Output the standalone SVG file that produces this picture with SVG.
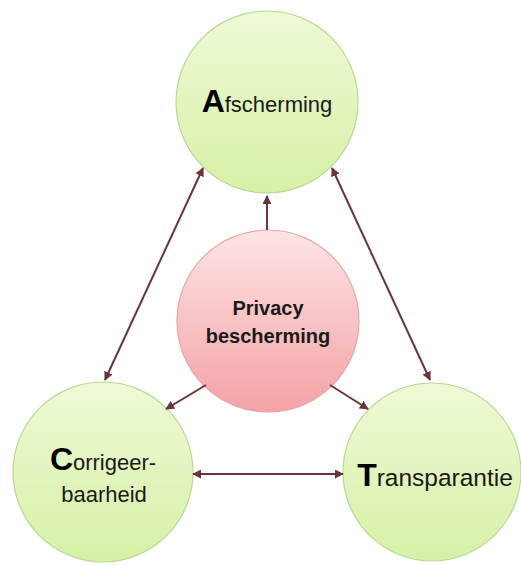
<svg xmlns="http://www.w3.org/2000/svg" width="521" height="565" viewBox="0 0 521 565">
  <defs>
    <linearGradient id="gGreen" x1="0" y1="0" x2="0" y2="1">
      <stop offset="0" stop-color="#eefad6"/>
      <stop offset="1" stop-color="#d6f0a6"/>
    </linearGradient>
    <linearGradient id="gPink" x1="0" y1="0" x2="0" y2="1">
      <stop offset="0" stop-color="#fde4e4"/>
      <stop offset="1" stop-color="#f3a2a6"/>
    </linearGradient>
    <marker id="head" viewBox="0 0 10 10" refX="9" refY="5" markerWidth="4.5" markerHeight="4.5" orient="auto-start-reverse" markerUnits="strokeWidth">
      <path d="M0,0 L10,5 L0,10 z" fill="#6a3438"/>
    </marker>
    <style>
      .green { fill: url(#gGreen); stroke: #b9d996; stroke-width: 1.2; }
      .pink { fill: url(#gPink); stroke: #e9a5a8; stroke-width: 1.2; }
      .lbl { font-family: "Liberation Sans", Arial, sans-serif; font-size: 22px; fill: #1a1a1a; text-anchor: middle; }
      .big { font-size: 32px; font-weight: bold; fill: #000; }
      .bold { font-family: "Liberation Sans", Arial, sans-serif; font-size: 20px; font-weight: bold; fill: #1a1a1a; text-anchor: middle; }
      .conn line { stroke: #6a3438; stroke-width: 2; fill: none; }
    </style>
  </defs>
  <rect width="521" height="565" fill="#ffffff"/>

  <g id="afscherming">
    <circle class="green" cx="267" cy="102" r="91"/>
    <text class="lbl" x="267" y="112"><tspan class="big">A</tspan>fscherming</text>
  </g>

  <g id="privacy-bescherming">
    <circle class="pink" cx="268" cy="321" r="91"/>
    <text class="bold" x="268" y="315">Privacy</text>
    <text class="bold" x="268" y="343">bescherming</text>
  </g>

  <g id="corrigeerbaarheid">
    <circle class="green" cx="103" cy="472" r="90"/>
    <text class="lbl" x="103" y="470"><tspan class="big">C</tspan>orrigeer-</text>
    <text class="lbl" x="104" y="502">baarheid</text>
  </g>

  <g id="transparantie">
    <circle class="green" cx="432" cy="472" r="89"/>
    <text class="lbl" x="435" y="486" style="font-size:24.5px"><tspan class="big">T</tspan>ransparantie</text>
  </g>

  <g id="connectors" class="conn">
    <line x1="267" y1="230" x2="267" y2="196" marker-end="url(#head)"/>
    <line x1="203" y1="168" x2="105" y2="380" marker-start="url(#head)" marker-end="url(#head)"/>
    <line x1="332" y1="168" x2="430" y2="380" marker-start="url(#head)" marker-end="url(#head)"/>
    <line x1="206" y1="385" x2="166" y2="409" marker-end="url(#head)"/>
    <line x1="330" y1="385" x2="368" y2="409" marker-end="url(#head)"/>
    <line x1="193" y1="474" x2="343" y2="474" marker-start="url(#head)" marker-end="url(#head)"/>
  </g>
</svg>
